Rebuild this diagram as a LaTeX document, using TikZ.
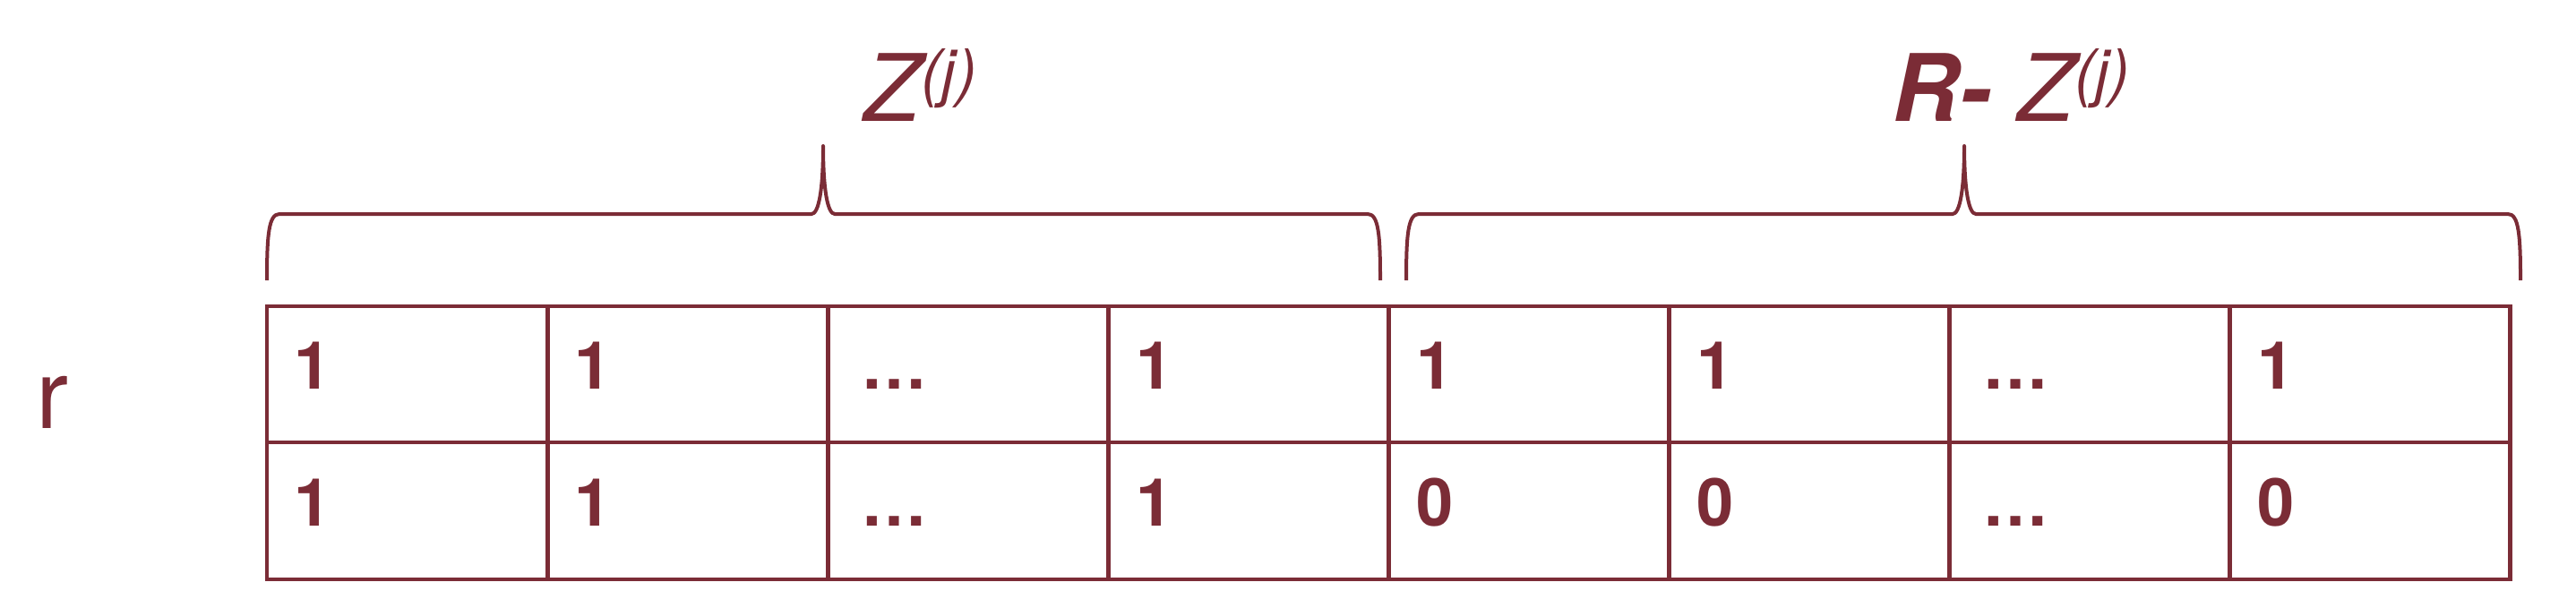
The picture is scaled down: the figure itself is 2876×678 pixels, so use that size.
\documentclass[tikz,border=0pt]{standalone}
\usepackage{fontspec}
\setmainfont{TeX Gyre Heros}
\definecolor{maroon}{HTML}{7B2C36}
\tikzset{
  grid/.style={draw=maroon, line width=1.2pt},
  brace/.style={draw=maroon, line width=1pt, line join=round},
  cell/.style={anchor=base west, inner sep=0pt, text=maroon, font=\fontsize{18.5}{22}\selectfont\bfseries},
  lab/.style={anchor=base west, inner sep=0pt, text=maroon, font=\fontsize{26}{30}\selectfont\itshape},
}
\begin{document}
\begin{tikzpicture}[x=0.25pt, y=-0.25pt]
\useasboundingbox (0,0) rectangle (2876,678);
% grid
\foreach \i in {0,...,8} {
  \coordinate (t\i) at ({298+313.1*\i},342);
  \coordinate (b\i) at ({298+313.1*\i},647);
  \draw[grid] (t\i) -- (b\i);
}
\coordinate (ml) at (298,494);
\coordinate (mr) at (2803,494);
\draw[grid, line cap=rect] (t0) -- (t8);
\draw[grid] (ml) -- (mr);
\draw[grid, line cap=rect] (b0) -- (b8);
% row 1
\foreach \i/\t in {0/1,1/1,3/1,4/1,5/1,7/1} {
  \node[cell] (ra\i) at ({298+313.1*\i+30},434) {\t};
}
\foreach \i in {2,6} {
  \node[cell] (ra\i) at ({298+313.1*\i+36},434) {…};
}
% row 2
\foreach \i/\t in {0/1,1/1,3/1,4/0,5/0,7/0} {
  \node[cell] (rb\i) at ({298+313.1*\i+30},587) {\t};
}
\foreach \i in {2,6} {
  \node[cell] (rb\i) at ({298+313.1*\i+36},587) {…};
}
% r label
\node[anchor=base west, inner sep=0pt, text=maroon, font=\fontsize{27}{30}\selectfont] (r) at (40,478) {r};
% braces
\draw[brace] (298,313) .. controls (298,262) and (300,239) .. (312,239) -- (906,239)
  .. controls (914,239) and (919,212) .. (919,163)
  .. controls (919,212) and (924,239) .. (932,239) -- (1527,239)
  .. controls (1539,239) and (1541,262) .. (1541,313);
\draw[brace] (1570,313) .. controls (1570,262) and (1572,239) .. (1584,239) -- (2180,239)
  .. controls (2188,239) and (2193,212) .. (2193,163)
  .. controls (2193,212) and (2198,239) .. (2206,239) -- (2800,239)
  .. controls (2812,239) and (2814,262) .. (2814,313);
% labels
\node[lab] (zl) at (964,135) {Z\raisebox{7.5pt}{\fontsize{17.5}{20}\selectfont\itshape (j)}};
\node[lab] (zr) at (2112,135) {{\bfseries R-} Z\raisebox{7.5pt}{\fontsize{17.5}{20}\selectfont\itshape (j)}};
\end{tikzpicture}
\end{document}
